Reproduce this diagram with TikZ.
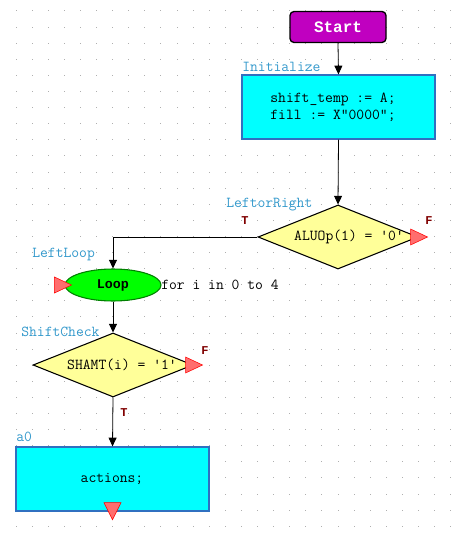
\documentclass[tikz,border=0pt]{standalone}
\usepackage{fontspec}
\newfontfamily\boldmono{Liberation Mono}
\usetikzlibrary{shapes.geometric,arrows.meta,calc}
\definecolor{startc}{RGB}{192,0,192}
\definecolor{cyanc}{RGB}{0,255,255}
\definecolor{cyanb}{RGB}{48,112,192}
\definecolor{yellc}{RGB}{255,255,153}
\definecolor{greenc}{RGB}{0,255,0}
\definecolor{greenb}{RGB}{0,128,0}
\definecolor{labc}{RGB}{51,153,204}
\definecolor{tfc}{RGB}{128,0,0}
\definecolor{trif}{RGB}{255,110,110}
\definecolor{dotc}{RGB}{175,175,175}
\begin{document}
\begin{tikzpicture}[x=0.75pt,y=-0.75pt,
 every node/.style={font=\ttfamily\fontsize{11.4}{13}\selectfont},
 startbox/.style={rectangle, rounded corners=3pt, draw=black, line width=1pt, fill=startc, minimum width=72pt, minimum height=23.25pt, inner sep=0, text=white, font=\boldmono\bfseries\fontsize{12}{14}\selectfont},
 actbox/.style={rectangle, draw=cyanb, line width=1pt, fill=cyanc, minimum width=144.75pt, minimum height=48pt, inner sep=0},
 decbox/.style={diamond, draw=black, line width=0.8pt, fill=yellc, minimum width=120pt, minimum height=48pt, inner sep=0},
 loopbox/.style={ellipse, draw=greenb, line width=0.8pt, fill=greenc, minimum width=72pt, minimum height=24pt, inner sep=0, font=\boldmono\bfseries\fontsize{10}{12}\selectfont},
 lab/.style={text=labc, anchor=base west, inner sep=0},
 tf/.style={text=tfc, font=\boldmono\bfseries\fontsize{9}{10}\selectfont, inner sep=0},
 txt/.style={inner sep=0},
 conn/.style={draw=black, line width=0.6pt},
 arr/.style={conn, -{Triangle[length=6.5pt,width=6pt]}},
 tri/.style={fill=trif, draw=red, line width=0.4pt}]
\useasboundingbox (0,0) rectangle (450,535);
\fill[white] (0,0) rectangle (450,535);
% dot grid
\foreach \i in {0,...,27}{
  \foreach \j in {0,...,32}{
    \fill[dotc] ({16+16.1*\i-0.5},{11+16.1*\j-0.5}) rectangle ++(1,1);
  }
}
% nodes
\node[startbox] (start) at (338,27) {Start};
\node[actbox] (init) at (338.5,107) {};
\node[txt, align=left] (inittxt) at (333,107.5) {shift\_temp := A;\\fill := X"0000";};
\node[decbox] (lr) at (338,237) {};
\node[txt] (lrtxt) at (349,237) {ALUOp(1) = '0'};
\node[loopbox] (loop) at (113,285) {Loop};
\node[txt, anchor=west] (fortxt) at (161,285) {for i in 0 to 4};
\node[decbox] (sc) at (113,365) {};
\node[txt] (sctxt) at (122,365) {SHAMT(i) = '1'};
\node[actbox] (a0) at (112.5,479) {};
\node[txt] (a0txt) at (112,479) {actions;};
% labels
\node[lab] (l1) at (242,72) {Initialize};
\node[lab] (l2) at (226,207) {LeftorRight};
\node[lab] (l3) at (32,257) {LeftLoop};
\node[lab] (l4) at (21,336) {ShiftCheck};
\node[lab] (l5) at (16,441) {a0};
\node[tf] (t1) at (245,221) {T};
\node[tf] (f1) at (429,221) {F};
\node[tf] (f2) at (205,351) {F};
\node[tf] (t2) at (124,413) {T};
% connectors
\draw[arr] (start.south) -- (init.north);
\draw[arr] (init.south) -- (lr.north);
\draw[arr] (lr.west) -| (loop.north);
\draw[arr] (loop.south) -- (sc.north);
\draw[arr] (sc.south) -- (a0.north);
% red markers
\filldraw[tri] ($(lr.east)+(-8,-8)$) -- ($(lr.east)+(9,0)$) -- ($(lr.east)+(-8,8)$) -- cycle;
\filldraw[tri] ($(sc.east)+(-8,-8)$) -- ($(sc.east)+(9,0)$) -- ($(sc.east)+(-8,8)$) -- cycle;
\filldraw[tri] ($(loop.west)+(-10,-8)$) -- ($(loop.west)+(7,0)$) -- ($(loop.west)+(-10,8)$) -- cycle;
\filldraw[tri] ($(a0.south)+(-8.5,-9)$) -- ($(a0.south)+(0,8)$) -- ($(a0.south)+(8.5,-9)$) -- cycle;
\end{tikzpicture}
\end{document}
